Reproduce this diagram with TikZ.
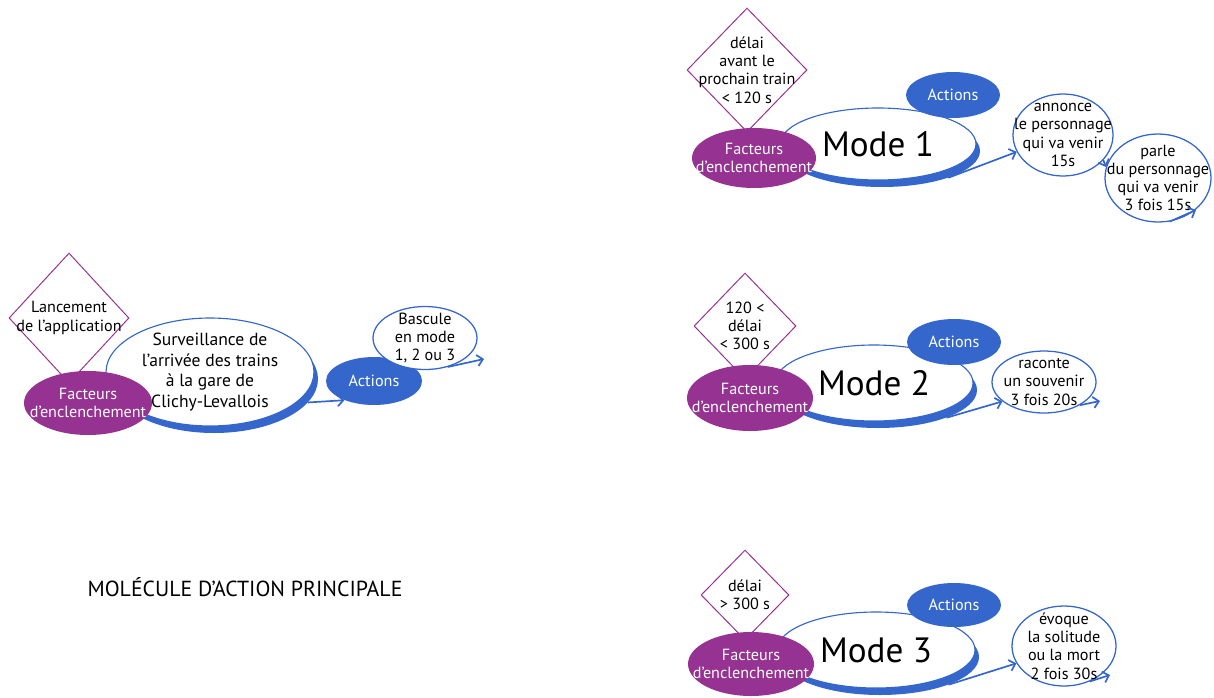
\documentclass[tikz,border=0pt]{standalone}
\usepackage{fontspec}
\setmainfont{PT Sans}
\usetikzlibrary{shapes.geometric,arrows.meta}

\definecolor{molblue}{RGB}{52,102,204}
\definecolor{molpurple}{RGB}{150,50,145}

\begin{document}
\begin{tikzpicture}[x=0.025cm,y=-0.025cm,
                    dims/.style 2 args={minimum width=#1*0.025cm,minimum height=#2*0.025cm},
                    small/.style={font=\fontsize{11.5}{13}\selectfont,align=center},
                    bigmol/.style={ellipse,draw=molblue,line width=0.8pt,fill=white,inner sep=-40pt},
                    bigshade/.style={ellipse,fill=molblue,inner sep=-40pt},
                    trigger/.style={ellipse,fill=molpurple,text=white,inner sep=-40pt,small},
                    cond/.style={diamond,draw=molpurple,line width=0.7pt,fill=white,inner sep=-40pt,small},
                    act/.style={ellipse,fill=molblue,text=white,inner sep=-40pt,small},
                    result/.style={ellipse,draw=molblue,line width=0.9pt,fill=white,inner sep=-40pt,small},
                    link/.style={draw=molblue,line width=1.2pt,-{Straight Barb[length=4pt,width=8pt]}}]
  \useasboundingbox (0,0) rectangle (1214,697);

  % main molecule
  \node[bigshade,dims={208}{108}] (sA) at (214,379) {};
  \node[bigmol,dims={208}{108},font=\fontsize{12.5}{14.5}\selectfont,align=center] (mA) at (210,372)
    {Surveillance de\\l’arrivée des trains\\à la gare de\\Clichy-Levallois};
  \node[cond,dims={120}{130}] (dA) at (69,318) {Lancement\\de l’application};
  \node[trigger,dims={128}{64}] (fA) at (88,403) {Facteurs\\d’enclenchement};
  \node[act,dims={96}{48}] (aA) at (374,381) {Actions};
  \node[result,dims={104}{63}] (bA) at (425,338) {Bascule\\en mode\\1, 2 ou 3};
  \coordinate (eA) at (484,359);
  \draw[link] (sA.-14) -- (aA.213);
  \draw[link] (bA.-52) -- (eA);
  \node[font=\fontsize{15.5}{18}\selectfont] (title) at (245,587) {MOLÉCULE D’ACTION PRINCIPALE};

  % mode 1
  \node[bigshade,dims={196}{72}] (s1) at (882,151) {};
  \node[bigmol,dims={196}{72},font=\fontsize{25}{29}\selectfont] (m1) at (878,144) {Mode 1};
  \node[cond,dims={120}{124}] (d1) at (747,70) {délai\\avant le\\prochain train\\< 120 s};
  \node[trigger,dims={124}{60}] (f1) at (754,158) {Facteurs\\d’enclenchement};
  \node[act,dims={94}{46}] (a1) at (953,95) {Actions};
  \node[result,dims={100}{82}] (n1) at (1063,135) {annonce\\le personnage\\qui va venir\\15s};
  \node[result,dims={106}{88}] (p1) at (1158,178) {parle\\du personnage\\qui va venir\\3 fois 15s};
  \coordinate (e1) at (1196,210);
  \draw[link] (s1.-22) -- (n1.200);
  \draw[link] (n1.-32) -- (p1.168);
  \draw[link] (p1.-75) -- (e1);

  % mode 2
  \node[bigshade,dims={198}{76}] (s2) at (878,390) {};
  \node[bigmol,dims={198}{76},font=\fontsize{25}{29}\selectfont] (m2) at (874,383) {Mode 2};
  \node[cond,dims={102}{106}] (d2) at (745,326) {120 <\\délai\\< 300 s};
  \node[trigger,dims={126}{66}] (f2) at (750,398) {Facteurs\\d’enclenchement};
  \node[act,dims={94}{46}] (a2) at (954,342) {Actions};
  \node[result,dims={104}{62}] (r2) at (1044,382) {raconte\\un souvenir\\3 fois 20s};
  \coordinate (e2) at (1100,401);
  \draw[link] (s2.-22) -- (r2.205);
  \draw[link] (r2.-33) -- (e2);

  % mode 3
  \node[bigshade,dims={198}{76}] (s3) at (880,657) {};
  \node[bigmol,dims={198}{76},font=\fontsize{25}{29}\selectfont] (m3) at (876,650) {Mode 3};
  \node[cond,dims={88}{90}] (d3) at (745,595) {délai\\> 300 s};
  \node[trigger,dims={126}{64}] (f3) at (751,664) {Facteurs\\d’enclenchement};
  \node[act,dims={94}{44}] (a3) at (954,605) {Actions};
  \node[result,dims={104}{80}] (e3) at (1064,646) {évoque\\la solitude\\ou la mort\\2 fois 30s};
  \coordinate (t3) at (1110,675);
  \draw[link] (s3.-22) -- (e3.200);
  \draw[link] (e3.-54) -- (t3);
\end{tikzpicture}
\end{document}
